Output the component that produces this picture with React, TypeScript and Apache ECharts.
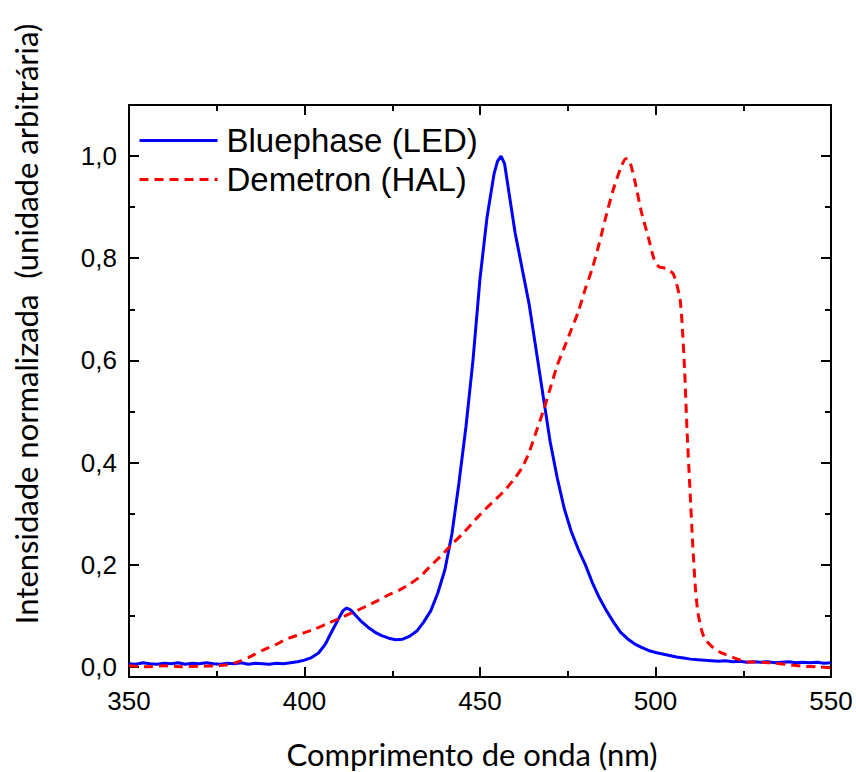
import React, { useEffect, useRef } from "react";
import * as echarts from "echarts";

// Bluephase (LED)
const ledWavelengths = [
  350, 352, 354, 356, 358, 360, 362, 364, 366, 368, 370, 372, 374, 376, 378, 380, 382, 384, 386, 388,
  390, 392, 394, 396, 398, 400, 402, 404, 406, 408, 410, 411, 412, 413, 414, 416, 418, 420, 422, 424,
  426, 428, 430, 432, 434, 436, 438, 440, 442, 444, 446, 448, 450, 452, 454, 455, 456, 457, 458, 460,
  462, 464, 466, 468, 470, 472, 474, 476, 478, 480, 482, 484, 486, 488, 490, 492, 494, 496, 498, 500,
  502, 504, 506, 508, 510, 512, 514, 516, 518, 520, 522, 524, 526, 528, 530, 532, 534, 536, 538, 540,
  542, 544, 546, 548, 550,
];
const ledValues = [
  0.006, 0.005, 0.008, 0.006, 0.005, 0.007, 0.006, 0.008, 0.005, 0.007, 0.006, 0.008, 0.006, 0.005, 0.007, 0.006, 0.008, 0.005, 0.007, 0.006,
  0.005, 0.007, 0.006, 0.008, 0.01, 0.013, 0.018, 0.027, 0.045, 0.072, 0.098, 0.11, 0.115, 0.112, 0.105, 0.09, 0.078, 0.068, 0.061, 0.056,
  0.053, 0.054, 0.06, 0.07, 0.088, 0.11, 0.145, 0.19, 0.26, 0.36, 0.47, 0.6, 0.76, 0.88, 0.965, 0.99, 1.0, 0.985, 0.94, 0.85,
  0.78, 0.71, 0.62, 0.53, 0.44, 0.37, 0.31, 0.265, 0.23, 0.2, 0.165, 0.135, 0.11, 0.088, 0.068, 0.055, 0.045, 0.038, 0.032, 0.028,
  0.025, 0.022, 0.019, 0.017, 0.015, 0.014, 0.013, 0.012, 0.011, 0.012, 0.01, 0.011, 0.009, 0.01, 0.009, 0.01, 0.008, 0.009, 0.01, 0.008,
  0.009, 0.008, 0.009, 0.007, 0.008,
];

// Demetron (HAL)
const halWavelengths = [
  350, 355, 360, 365, 370, 375, 378, 380, 382, 384, 386, 388, 390, 392, 394, 396, 398, 400, 403, 406,
  409, 412, 415, 418, 421, 424, 427, 430, 433, 436, 439, 442, 445, 448, 451, 454, 457, 460, 462, 464,
  466, 468, 470, 472, 474, 476, 478, 480, 482, 484, 486, 488, 490, 491.5, 492.5, 494, 496, 498, 499.5, 501,
  503, 505, 506, 507, 507.6, 508.3, 509, 509.8, 510.6, 511.3, 512, 513, 514, 516, 518, 520, 523, 526, 530, 534,
  538, 542, 546, 550,
];
const halValues = [
  0.002, 0.0, 0.002, 0.0, 0.001, 0.002, 0.004, 0.007, 0.012, 0.018, 0.025, 0.032, 0.038, 0.044, 0.051, 0.057, 0.062, 0.067, 0.074, 0.083,
  0.092, 0.101, 0.11, 0.12, 0.13, 0.141, 0.15, 0.162, 0.177, 0.198, 0.218, 0.24, 0.26, 0.283, 0.305, 0.325, 0.345, 0.37, 0.39, 0.42,
  0.46, 0.5, 0.545, 0.59, 0.625, 0.66, 0.695, 0.74, 0.78, 0.83, 0.885, 0.935, 0.975, 0.995, 0.993, 0.955, 0.89, 0.84, 0.8, 0.783,
  0.78, 0.77, 0.75, 0.72, 0.67, 0.58, 0.46, 0.35, 0.24, 0.16, 0.11, 0.075, 0.055, 0.04, 0.03, 0.024, 0.016, 0.01, 0.009, 0.007,
  0.004, 0.001, 0.0, -0.002,
];

const yMajorTicks = [0, 0.2, 0.4, 0.6, 0.8, 1.0];
const yMinorTicks = [0.1, 0.3, 0.5, 0.7, 0.9];

const seriesNames = ["Bluephase (LED)", "Demetron (HAL)"];
const xTitle = "Comprimento de onda (nm)";
const yTitle = "Intensidade normalizada  (unidade arbitrária)";

export default function App() {
  const ref = useRef<HTMLDivElement>(null);
  useEffect(() => {
    document.body.style.margin = "0";
    const chart = echarts.init(ref.current!, null, { renderer: "svg" });
    const axisLine = { show: true, onZero: false, lineStyle: { color: "#000", width: 2 } };
    const tickFont = { fontFamily: "Liberation Sans", fontSize: 26, color: "#000" };
    const xBase = (pos: string, labels: boolean) => ({
      type: "value",
      position: pos,
      min: 350,
      max: 550,
      interval: 50,
      axisLine,
      axisTick: { show: true, inside: true, length: 10, lineStyle: { color: "#000", width: 2 } },
      minorTick: { show: true, splitNumber: 2, length: 6, lineStyle: { color: "#000", width: 2 } },
      axisLabel: { show: labels, margin: 11, ...tickFont },
      splitLine: { show: false },
      minorSplitLine: { show: false },
    });
    const yBase = (pos: string, ticks: number[], len: number, labels: boolean, line: boolean) => ({
      type: "value",
      position: pos,
      min: -0.02,
      max: 1.1,
      axisLine: { ...axisLine, show: line },
      axisTick: {
        show: true,
        inside: true,
        length: len,
        customValues: ticks,
        lineStyle: { color: "#000", width: 2 },
      },
      axisLabel: {
        show: labels,
        margin: 12,
        customValues: ticks,
        formatter: (v: number) => v.toFixed(1).replace(".", ","),
        ...tickFont,
      },
      splitLine: { show: false },
    });
    chart.setOption({
      animation: false,
      backgroundColor: "#fff",
      grid: { left: 129, right: 25, top: 105, bottom: 95, containLabel: false },
      legend: {
        show: true,
        orient: "vertical",
        left: 138,
        top: 124,
        padding: 0,
        itemWidth: 78,
        itemHeight: 14,
        itemGap: 6,
        data: seriesNames,
        itemStyle: { opacity: 0 },
        lineStyle: { width: 3 },
        textStyle: {
          fontFamily: "Liberation Sans",
          fontSize: 33,
          lineHeight: 33,
          color: "#000",
          padding: [0, 0, 0, 4],
        },
      },
      xAxis: [xBase("bottom", true), xBase("top", false)],
      yAxis: [
        yBase("left", yMajorTicks, 10, true, true),
        yBase("left", yMinorTicks, 6, false, false),
        yBase("right", yMajorTicks, 10, false, true),
        yBase("right", yMinorTicks, 6, false, false),
      ],
      graphic: [
        {
          type: "text",
          x: 472,
          y: 754,
          style: {
            text: xTitle,
            fontFamily: "Lato",
            fontSize: 31,
            fill: "#000",
            align: "center",
            verticalAlign: "middle",
          },
        },
        {
          type: "text",
          x: 26,
          y: 324,
          rotation: Math.PI / 2,
          style: {
            text: yTitle,
            fontFamily: "Lato",
            fontSize: 31,
            fill: "#000",
            align: "center",
            verticalAlign: "middle",
          },
        },
      ],
      series: [
        {
          name: seriesNames[0],
          type: "line",
          xAxisIndex: 0,
          yAxisIndex: 0,
          symbol: "none",
          data: ledWavelengths.map((w, i) => [w, ledValues[i]]),
          lineStyle: { color: "#0000ff", width: 3 },
          itemStyle: { color: "#0000ff" },
        },
        {
          name: seriesNames[1],
          type: "line",
          xAxisIndex: 0,
          yAxisIndex: 0,
          symbol: "none",
          smooth: 0.2,
          data: halWavelengths.map((w, i) => [w, halValues[i]]),
          lineStyle: { color: "#ff0000", width: 3, type: [9, 6] },
          itemStyle: { color: "#ff0000" },
        },
      ],
    });
    return () => chart.dispose();
  }, []);
  return <div ref={ref} style={{ width: 856, height: 772 }} />;
}
